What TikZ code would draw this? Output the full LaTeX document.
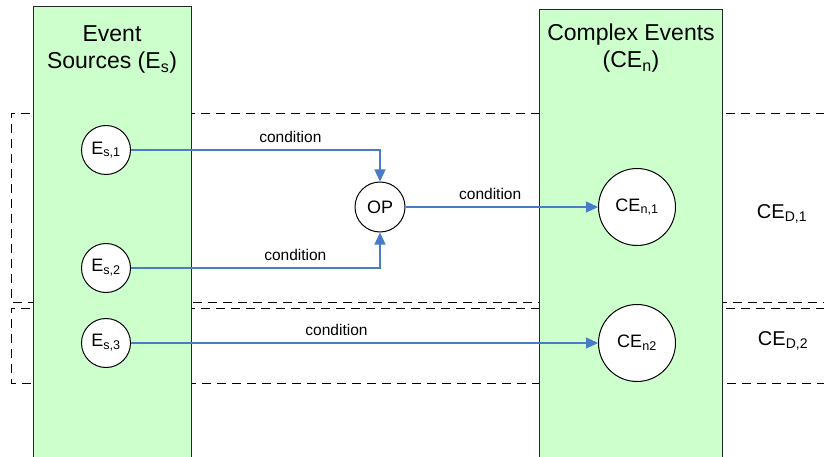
\documentclass[tikz,border=0pt]{standalone}
\usepackage{fontspec}
\setmainfont{Liberation Sans}
\usetikzlibrary{arrows.meta}
\definecolor{colgreen}{HTML}{CCFFCC}
\definecolor{flowblue}{HTML}{4A7BC6}

\begin{document}
\begin{tikzpicture}[x=1pt,y=-1pt,
    column/.style={draw=black!85,fill=colgreen,line width=1pt},
    group/.style={draw=black,line width=0.9pt,dash pattern=on 9pt off 6pt},
    head/.style={align=center,font=\fontsize{23}{27}\selectfont},
    src/.style={circle,draw,fill=white,line width=1pt,minimum size=49pt,inner sep=0pt,font=\fontsize{18}{21}\selectfont},
    cpx/.style={src,minimum size=77pt},
    flow/.style={draw=flowblue,line width=1.3pt,-{Triangle[length=12pt,width=11pt]}},
    cond/.style={font=\fontsize{15.5}{18}\selectfont,above=6pt,inner sep=1pt},
    dom/.style={font=\fontsize{20}{23}\selectfont}]
  \useasboundingbox (0,0) rectangle (824,457);
  \clip (0,0) rectangle (824,457);
  % detection domains
  \draw[group] (840,113) -- (11,113) -- (11,302) -- (840,302);
  \draw[group] (840,308) -- (11,308) -- (11,383) -- (840,383);
  % columns
  \draw[column] (33,470) rectangle (191,7);
  \draw[column] (539,470) rectangle (722,10);
  \node[head] (srchead) at (112,49.5) {Event\\Sources (E\textsubscript{s})};
  \node[head] (cpxhead) at (631,48) {Complex Events\\(CE\textsubscript{n})};
  % events
  \node[src] (es1) at (106,150) {E\textsubscript{s,1}};
  \node[src] (es2) at (106,268) {E\textsubscript{s,2}};
  \node[src] (es3) at (106,343) {E\textsubscript{s,3}};
  \node[src,minimum size=50pt] (op) at (380,207) {OP};
  \node[cpx] (cen1) at (637,207) {CE\textsubscript{n,1}};
  \node[cpx] (cen2) at (637,343) {CE\textsubscript{n2}};
  \node[dom] (ced1) at (782,214) {CE\textsubscript{D,1}};
  \node[dom] (ced2) at (783,341) {CE\textsubscript{D,2}};
  % flows
  \draw[flow] (es1) -| node[cond,pos=0.32] {condition} (op);
  \draw[flow] (es2) -| node[cond,pos=0.33] {condition} (op);
  \draw[flow] (op) -- node[cond,pos=0.44] {condition} (cen1);
  \draw[flow] (es3) -- node[cond,pos=0.44] {condition} (cen2);
\end{tikzpicture}
\end{document}
